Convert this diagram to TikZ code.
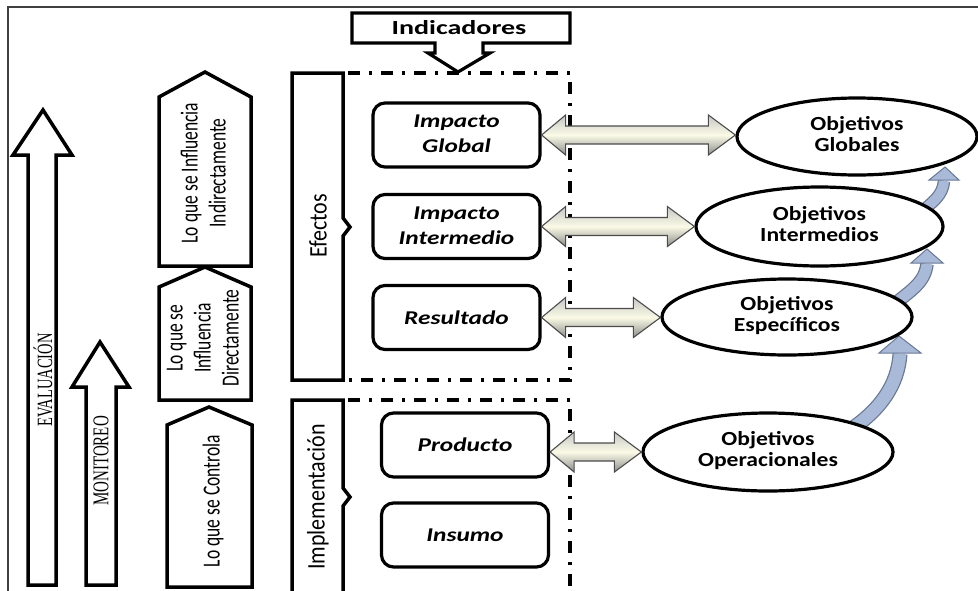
\documentclass[tikz,border=0pt]{standalone}
\usepackage{fontspec}
\setmainfont{Carlito}
\newfontfamily\serf{Liberation Serif}
\usepackage{graphicx}
\usetikzlibrary{calc,shapes.geometric}
\definecolor{cream}{RGB}{250,250,230}
\definecolor{arrblue}{RGB}{168,186,216}
\definecolor{arrblueline}{RGB}{105,120,148}
\newcommand{\hst}[2]{\scalebox{#1}[1]{#2}}
\newcommand{\vst}[2]{\scalebox{1}[#1]{#2}}
\newcommand{\stk}[1]{\begin{tabular}{@{}c@{}}#1\end{tabular}}
\newcommand{\dblarr}[2]{%
  \path[dbl] let \p1=(#1), \p2=(#2) in
    (\x1,\y1) -- (\x1+24,\y1+20) -- (\x1+24,\y1+9) -- (\x2-27,\y1+9) -- (\x2-27,\y1+20)
    -- (\x2,\y1) -- (\x2-27,\y1-20) -- (\x2-27,\y1-9) -- (\x1+24,\y1-9) -- (\x1+24,\y1-20) -- cycle;}
\begin{document}
\begin{tikzpicture}[x=1pt,y=-1pt,
  outl/.style={draw=black, line width=3.5pt, line join=miter, fill=white},
  rbox/.style={draw, line width=3.2pt, rounded corners=12pt, minimum width=167pt, minimum height=64pt, inner sep=0pt, fill=white,
    font=\fontsize{19.5}{25}\selectfont\bfseries\itshape},
  obj/.style={ellipse, draw, line width=3.2pt, fill=white, inner sep=0pt,
    font=\fontsize{20}{21}\selectfont\bfseries},
  dbl/.style={draw=black!70, line width=1.1pt, line join=miter, top color=black!22, bottom color=black!45, middle color=cream},
  dashdot/.style={line width=3.2pt, dash pattern=on 12pt off 9pt on 3pt off 9pt},
  vtext/.style={rotate=90, inner sep=0pt},
  bshaft/.style={line width=15pt, draw=arrblueline},
  bshaftin/.style={line width=12.5pt, draw=arrblue},
  bhead/.style={fill=arrblue, draw=arrblueline, line width=1pt, line join=miter}]
\useasboundingbox (0,0) rectangle (978,590);
% frame
\draw[black!75, line width=1.3pt] (8,595) -- (8,7) -- (985,7);

% big vertical arrows
\draw[outl] (28,585) -- (28,155) -- (13,155) -- (43,110) -- (72,155) -- (56,155) -- (56,585) -- cycle;
\node[vtext] (ev) at (43,380) {\vst{1.5}{\serf\fontsize{14.5}{17}\selectfont EVALUACIÓN}};
\draw[outl] (86,585) -- (86,387) -- (72,387) -- (100,342) -- (129,387) -- (116,387) -- (116,585) -- cycle;
\node[vtext] (mo) at (101,461) {\vst{1.5}{\serf\fontsize{15}{17}\selectfont MONITOREO}};

% pentagons
\draw[outl] (159,266) -- (159,97) -- (205,72) -- (251,97) -- (251,266) -- cycle;
\node[vtext] (p1) at (206,173) {\vst{1.4}{\fontsize{17.5}{20}\selectfont\stk{Lo que se Influencia\\Indirectamente}}};
\draw[outl] (159,400) -- (159,287) -- (205,267) -- (251,287) -- (251,400) -- cycle;
\node[vtext] (p2) at (205,338) {\vst{1.4}{\fontsize{17.5}{20}\selectfont\stk{Lo que se\\Influencia\\Directamente}}};
\draw[outl] (167,587) -- (167,425) -- (209,407) -- (252,425) -- (252,587) -- cycle;
\node[vtext] (p3) at (213,501) {\vst{1.4}{\fontsize{17.5}{20}\selectfont Lo que se Controla}};

% Efectos / Implementacion boxes
\draw[outl] (343,73) -- (292,73) -- (292,380) -- (343,380) -- (343,236) -- (350,227) -- (343,218) -- cycle;
\node[vtext] (ef) at (318,226) {\vst{1.15}{\fontsize{22}{26}\selectfont Efectos}};
\draw[outl] (343,400) -- (292,400) -- (292,600) -- (343,600) -- (343,506) -- (350,497) -- (343,488) -- cycle;
\node[vtext] (im) at (318,497) {\vst{1.15}{\fontsize{22}{26}\selectfont Implementación}};

% dash-dot frames
\draw[dashdot] (348,73) -- (570,73) -- (570,380) -- (348,380);
\draw[dashdot] (348,400) -- (570,400) -- (570,595);

% Indicadores callout
\draw[outl, line width=3.2pt] (352,13) -- (570,13) -- (570,43) -- (483,43) -- (483,53) -- (490,53) -- (458,72)
  -- (428,53) -- (435,53) -- (435,43) -- (352,43) -- cycle;
\node (ind) at (459,28) {\hst{1.4}{\fontsize{20}{22}\selectfont\bfseries Indicadores}};

% indicator boxes
\node[rbox] (ig) at (456.5,135) {\hst{1.3}{\stk{Impacto\\Global}}};
\node[rbox] (ii) at (456.5,226.5) {\hst{1.3}{\stk{Impacto\\Intermedio}}};
\node[rbox] (re) at (456.5,317.5) {\hst{1.3}{Resultado}};
\node[rbox] (pr) at (465,445) {\hst{1.3}{Producto}};
\node[rbox] (in) at (465,535) {\hst{1.3}{Insumo}};

% blue curved arrows (drawn under ellipses)
\coordinate (b1s) at (850,430); \coordinate (b1e) at (900,354);
\coordinate (b2s) at (893,305); \coordinate (b2e) at (927,264);
\coordinate (b3s) at (920,213); \coordinate (b3e) at (944,181);
\draw[bshaft] (b1s) .. controls (880,410) and (898,385) .. (b1e);
\draw[bshaftin] (b1s) .. controls (880,410) and (898,385) .. (b1e);
\draw[bhead] (879,353) -- (921,353) -- (899,336) -- cycle;
\draw[bshaft, line width=13.5pt] (b2s) .. controls (912,290) and (925,282) .. (b2e);
\draw[bshaftin, line width=11pt] (b2s) .. controls (912,290) and (925,282) .. (b2e);
\draw[bhead] (911,263) -- (943,263) -- (927,249) -- cycle;
\draw[bshaft, line width=12.5pt] (b3s) .. controls (933,202) and (943,195) .. (b3e);
\draw[bshaftin, line width=10pt] (b3s) .. controls (933,202) and (943,195) .. (b3e);
\draw[bhead] (929,180) -- (959,180) -- (945,167) -- cycle;

% objective ellipses
\node[obj, minimum width=240pt, minimum height=77pt] (og) at (857,136.5) {\hst{1.18}{\stk{Objetivos\\Globales}}};
\node[obj, minimum width=247pt, minimum height=79pt] (oi) at (819.5,226.5) {\hst{1.18}{\stk{Objetivos\\Intermedios}}};
\node[obj, minimum width=250pt, minimum height=76pt] (oe) at (787,317) {\hst{1.18}{\stk{Objetivos\\Específicos}}};
\node[obj, minimum width=250pt, minimum height=78pt] (oo) at (768,452) {\hst{1.18}{\stk{Objetivos\\Operacionales}}};

% double arrows
\dblarr{ig.east}{og.west}
\dblarr{ii.east}{oi.west}
\dblarr{re.east}{oe.west}
\dblarr{pr.east |- oo.west}{oo.west}
\end{tikzpicture}
\end{document}
